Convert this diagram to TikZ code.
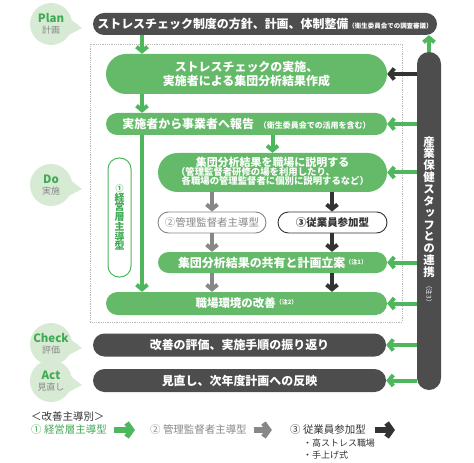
\documentclass[tikz,border=0pt]{standalone}
\usepackage{fontspec}
\setmainfont{Noto Sans CJK JP}
\newfontfamily\tatefont[RawFeature=+vert]{Noto Sans CJK JP}
\usepackage{xcolor}
\usetikzlibrary{arrows.meta,positioning,shapes.misc,calc}
\definecolor{boxgreen}{RGB}{100,186,104}
\definecolor{arrowgreen}{RGB}{78,182,92}
\definecolor{labelgreen}{RGB}{64,170,84}
\definecolor{bardark}{RGB}{77,77,77}
\definecolor{bubblegreen}{RGB}{215,234,212}
\definecolor{midgray}{RGB}{135,135,135}
\definecolor{inkdark}{RGB}{51,51,51}
\newcommand{\jfs}[2]{\fontsize{#1}{#2}\selectfont}
\newcommand{\chu}[1]{\raisebox{3bp}{\jfs{6}{6}（注#1）}}

\begin{document}
\begin{tikzpicture}[x=1bp,y=-1bp,>=Latex]
\tikzset{
	pill/.style={
		rounded rectangle,
		fill=boxgreen,
		text=white,
		font=\bfseries\jfs{12}{14},
		inner sep=1bp,
		align=center
	},
	darkpill/.style={pill,fill=bardark},
	outpill/.style={
		rounded rectangle,
		draw=#1,
		line width=0.9bp,
		fill=white,
		text=#1,
		font=\jfs{10.5}{12},
		minimum width=110bp,
		minimum height=21bp,
		inner sep=1bp
	},
	bubble/.style={
		circle,
		fill=bubblegreen,
		minimum size=42bp,
		inner sep=0pt,
		align=center,
		text=midgray,
		font=\jfs{9}{11.5}
	},
	flow/.style={line width=4bp,-{Straight Barb[length=4.5bp,width=11bp]}},
	gflow/.style={flow,draw=arrowgreen},
	legarrow/.style={line width=5.5bp,-{Straight Barb[length=5bp,width=14bp]},draw=#1},
	legtext/.style={anchor=west,inner sep=0pt,text=#1,font=\jfs{10.5}{12}}
}
\useasboundingbox (0,0) rectangle (474,463);

\draw[gray!55,densely dotted,line width=0.8bp] (90,44) rectangle (402,322);

\node[darkpill,minimum width=346bp,minimum height=22bp] (plan) at (265,24)
	{ストレスチェック制度の方針、計画、体制整備{\jfs{6.5}{7}（衛生委員会での調査審議）}};
\node[pill,minimum width=283bp,minimum height=40bp] (impl) at (246.5,74)
	{ストレスチェックの実施、\\実施者による集団分析結果作成};
\node[pill,minimum width=283bp,minimum height=22bp] (report) at (246.5,124)
	{実施者から事業者へ報告\hspace{5bp}{\jfs{8}{9}（衛生委員会での活用を含む）}};
\node[pill,minimum width=231bp,minimum height=39bp,font=\bfseries\jfs{11}{11.5}] (explain) at (272.5,172.5)
	{集団分析結果を職場に説明する\\[-1bp]
	{\jfs{9.4}{10.5}\begin{tabular}{@{}l@{}}（管理監督者研修の場を利用したり、\\[-2.5bp]\hspace{0.6em}各職場の管理監督者に個別に説明するなど）\end{tabular}}};
\node[outpill=midgray] (kanri) at (212,222.5) {②管理監督者主導型};
\node[outpill=inkdark,font=\bfseries\jfs{10.5}{12},minimum width=111bp] (jugyo) at (332.5,222.5) {③従業員参加型};
\node[pill,minimum width=231bp,minimum height=21bp] (share) at (272.5,262.5)
	{集団分析結果の共有と計画立案\chu{1}};
\node[pill,minimum width=283bp,minimum height=23bp,font=\bfseries\jfs{11.5}{13}] (kaizen) at (246.5,303.5)
	{職場環境の改善\chu{2}};
\node[darkpill,minimum width=295bp,minimum height=23bp] (check) at (239.5,345)
	{改善の評価、実施手順の振り返り};
\node[darkpill,minimum width=295bp,minimum height=23bp] (act) at (239.5,380.5)
	{見直し、次年度計画への反映};

\node[draw=arrowgreen,line width=1bp,fill=white,rounded corners=11bp,minimum width=23bp,minimum height=119bp,
	text=labelgreen,font=\tatefont\bfseries\jfs{10}{9.8},align=center] (keiei) at (119.5,217.5)
	{{\jfs{8}{9.8}①}\\経\\営\\層\\主\\導\\型};

\node[fill=bardark,rounded corners=12bp,minimum width=24bp,minimum height=338bp] (staff) at (429,221) {};
\node[text=white,font=\tatefont\bfseries\jfs{11.5}{11.9},align=center,inner sep=0pt] (stafftxt) at (429,207)
	{産\\業\\保\\健\\ス\\タ\\ッ\\フ\\と\\の\\連\\携};
\node[rotate=-90,text=white,font=\jfs{6.5}{7},inner sep=0pt] (note3) at (429,294) {（注3）};

\foreach \nm/\pos/\top/\sub in {planlbl/24/Plan/計画,dolbl/185/Do/実施,checklbl/344/Check/評価,actlbl/381/Act/見直し}{
	\node[bubble] (\nm) at (51,\pos) {{\color{labelgreen}\bfseries\jfs{11.5}{12}\top}\\\sub};
	\fill[bubblegreen] ($(\nm.center)+(18,-6)$) -- ($(\nm.center)+(31,4)$) -- ($(\nm.center)+(14,13)$) -- cycle;
}

\coordinate (colA) at (142,0);
\coordinate (colB) at (212,0);
\coordinate (colC) at (332,0);

\draw[gflow] (plan.south -| colA) -- (impl.north -| colA);
\draw[gflow] (impl.south -| colA) -- (report.north -| colA);
\draw[gflow] (report.south -| colA) -- (kaizen.north -| colA);
\draw[gflow] (report.south -| explain) -- (explain.north);
\draw[flow,draw=midgray] (explain.south -| colB) -- (kanri.north);
\draw[flow,draw=inkdark] (explain.south -| colC) -- (jugyo.north -| colC);
\draw[flow,draw=midgray] (kanri.south) -- (share.north -| colB);
\draw[flow,draw=inkdark] (jugyo.south -| colC) -- (share.north -| colC);
\draw[flow,draw=midgray] (share.south -| colB) -- (kaizen.north -| colB);
\draw[flow,draw=inkdark] (share.south -| colC) -- (kaizen.north -| colC);

\draw[gflow] (staff.north) -- (plan.south -| staff);
\draw[flow,draw=inkdark] (staff.west |- impl) -- (impl.east);
\foreach \nm in {report,explain,share,kaizen,check,act}
	\draw[gflow] (staff.west |- \nm) -- (\nm.east);

\node[legtext=inkdark] (legtitle) at (31,417) {＜改善主導別＞};
\node[legtext=labelgreen] (leg1) at (31,430) {① 経営層主導型};
\node[legtext=midgray] (leg2) at (150,430) {② 管理監督者主導型};
\node[legtext=inkdark] (leg3) at (290,430) {③ 従業員参加型};
\node[legtext=inkdark,font=\jfs{9}{10}] (leg3a) at (303,443) {・高ストレス職場};
\node[legtext=inkdark,font=\jfs{9}{10}] (leg3b) at (303,455) {・手上げ式};
\draw[legarrow=arrowgreen] ([xshift=7bp]leg1.east) -- +(21,0);
\draw[legarrow=midgray] ([xshift=7bp]leg2.east) -- +(18,0);
\draw[legarrow=inkdark] ([xshift=9bp]leg3.east) -- +(20,0);
\end{tikzpicture}
\end{document}
